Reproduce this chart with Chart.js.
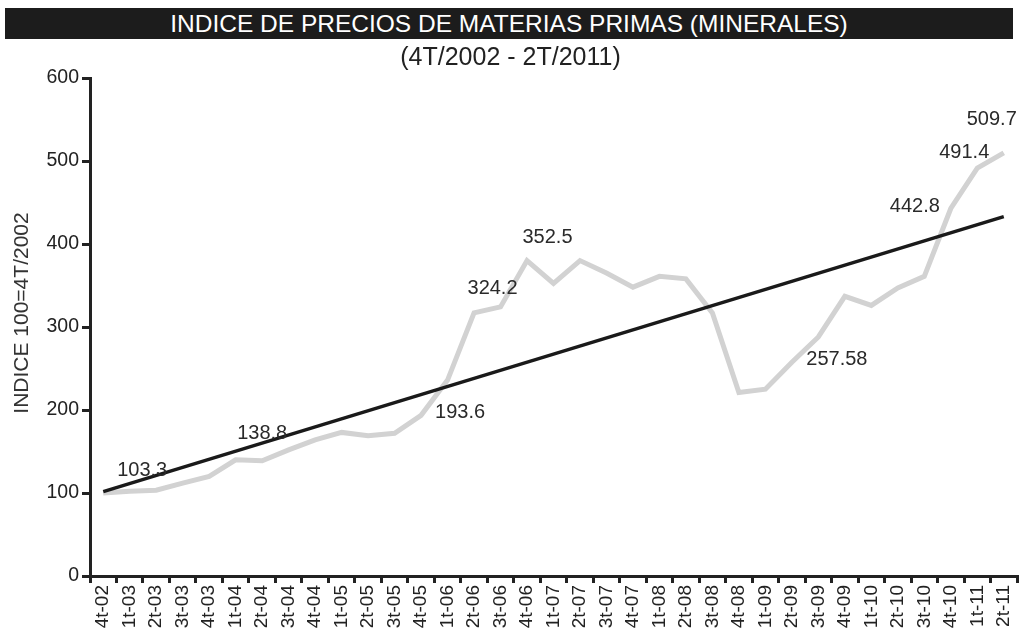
<!DOCTYPE html>
<html>
<head>
<meta charset="utf-8">
<script src="https://cdn.jsdelivr.net/npm/chart.js@4.4.0/dist/chart.umd.min.js"></script>
<style>
body{margin:0;background:#fff;width:1021px;height:635px;overflow:hidden;position:relative;font-family:"Liberation Sans",Arial,sans-serif}
#wrap{position:absolute;left:0;top:0;width:1021px;height:635px}
#titulo{position:absolute;left:5px;top:8px;width:1008px;height:31px;background:#1c1c1c;color:#fff;font-family:"Liberation Sans Narrow","Liberation Sans",sans-serif;font-size:24.5px;line-height:31px;text-align:center}
#sub{position:absolute;left:0;top:41px;width:1021px;text-align:center;font-family:"Liberation Sans Narrow","Liberation Sans",sans-serif;font-size:25px;line-height:30px;color:#222}
</style>
</head>
<body>
<div id="wrap"><canvas id="grafico" width="1021" height="635"></canvas></div>
<div id="titulo">INDICE DE PRECIOS DE MATERIAS PRIMAS (MINERALES)</div>
<div id="sub">(4T/2002 - 2T/2011)</div>
<script>
// trimestres 4t-02 .. 2t-11
const trimestres = ['4t-02','1t-03','2t-03','3t-03','4t-03','1t-04','2t-04','3t-04','4t-04',
  '1t-05','2t-05','3t-05','4t-05','1t-06','2t-06','3t-06','4t-06','1t-07','2t-07','3t-07','4t-07',
  '1t-08','2t-08','3t-08','4t-08','1t-09','2t-09','3t-09','4t-09','1t-10','2t-10','3t-10','4t-10',
  '1t-11','2t-11'];

// indice
const indice = [100, 102, 103.3, 112, 120, 140, 138.8, 152, 164, 173, 169, 172, 193.6, 236, 317,
  324.2, 380, 352.5, 380, 365, 348, 361, 358, 317, 221, 225, 257.58, 288, 337, 326, 347, 361,
  442.8, 491.4, 509.7];

// linea de tendencia: extremos
const tendenciaTrim = ['4t-02', '2t-11'];
const tendenciaValor = [101.6, 433];

// puntos con etiqueta
const puntosEtiquetados = [2, 6, 12, 15, 17, 26, 32, 33, 34];

const ejeY = [0, 600, 100];
const tituloY = 'INDICE 100=4T/2002';

const etiquetasPlugin = {
  id: 'etiquetas',
  afterDatasetsDraw(chart, args, opts) {
    const ctx = chart.ctx;
    const meta = chart.getDatasetMeta(0);
    ctx.save();
    ctx.font = '20px "Liberation Sans", Arial, sans-serif';
    ctx.fillStyle = '#2a2a2a';
    ctx.textAlign = 'center';
    ctx.textBaseline = 'middle';
    puntosEtiquetados.forEach((i, k) => {
      const p = meta.data[i];
      const d = opts.desplaz[k];
      ctx.fillText(String(indice[i]), p.x + d[0], p.y + d[1]);
    });
    // titulo del eje y
    ctx.translate(22, 313);
    ctx.rotate(-Math.PI / 2);
    ctx.font = '21px "Liberation Sans", Arial, sans-serif';
    ctx.fillStyle = '#333';
    ctx.fillText(tituloY, 0, 0);
    ctx.restore();
  }
};

const config = {
  type: 'line',
  data: {
    labels: trimestres,
    datasets: [
      {
        label: 'Indice',
        data: indice,
        borderColor: '#d2d2d2',
        borderWidth: 5,
        pointRadius: 0,
        tension: 0,
        order: 2
      },
      {
        label: 'Tendencia',
        data: tendenciaTrim.map((t, i) => ({x: t, y: tendenciaValor[i]})),
        borderColor: '#1a1a1a',
        borderWidth: 3.5,
        pointRadius: 0,
        order: 1
      }
    ]
  },
  options: {
    responsive: false,
    animation: false,
    layout: {padding: {top: 78, right: 4, left: 0, bottom: 0}},
    plugins: {
      legend: {display: false},
      tooltip: {enabled: false},
      etiquetas: {
        desplaz: [[-14, -20], [0, -27], [39, -3], [-8, -18], [-6, -46], [45, -3], [-36, -2], [-13, -16], [-12, -33]]
      }
    },
    scales: {
      x: {
        offset: true,
        grid: {offset: true, drawOnChartArea: false, drawTicks: true, tickLength: 7, color: '#222', lineWidth: 3},
        border: {display: true, color: '#222', width: 3},
        ticks: {autoSkip: false, minRotation: 90, maxRotation: 90, color: '#222', padding: 2,
          font: {family: '"Liberation Sans", Arial, sans-serif', size: 19}},
        afterFit(s) { s.height = 59; s.paddingLeft = 0; s.paddingRight = 0; }
      },
      y: {
        min: ejeY[0], max: ejeY[1],
        grid: {drawOnChartArea: false, tickLength: 8, color: '#222', lineWidth: 3},
        border: {display: true, color: '#222', width: 3},
        ticks: {stepSize: ejeY[2], color: '#222', padding: 3,
          font: {family: '"Liberation Sans", Arial, sans-serif', size: 19.5}},
        afterFit(s) { s.width = 90; }
      }
    }
  },
  plugins: [etiquetasPlugin]
};

new Chart(document.getElementById('grafico'), config);
</script>
</body>
</html>
